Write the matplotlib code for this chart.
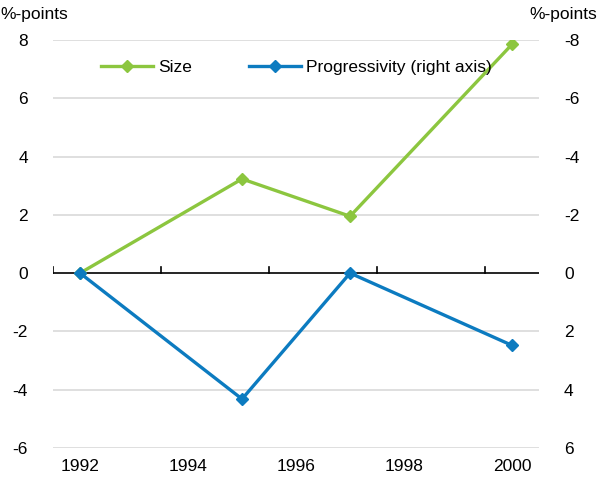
import matplotlib.pyplot as plt
import numpy as np

plt.rcParams['font.family'] = ['Liberation Sans', 'DejaVu Sans']
plt.rcParams['axes.unicode_minus'] = False

years = [1992, 1995, 1997, 2000]
size = [0.0, 3.23, 1.95, 7.85]
progressivity = [0.0, 4.32, 0.0, 2.48]
year_labels = [1992, 1994, 1996, 1998, 2000]

green = '#8CC63F'
blue = '#0C7BC0'

fig = plt.figure(figsize=(5.97, 4.79), dpi=100)
ax = fig.add_axes([0.0888, 0.0647, 0.8142, 0.852])
ax2 = ax.twinx()

ax.set_xlim(1991.5, 2000.5)
ax.set_ylim(-6, 8)
ax2.set_ylim(6, -8)

# gridlines
for y in range(-6, 9, 2):
    if y == 0:
        continue
    ax.axhline(y, color='#D9D9D9', lw=1.2, zorder=0)
ax.axhline(0, color='black', lw=1.2, zorder=1)
for x in np.arange(1991.5, 2000, 2):
    ax.plot([x, x], [0, 0.22], color='black', lw=1.2, zorder=1)

l1, = ax.plot(years, size, color=green, lw=2.4, marker='D', ms=6, zorder=3, label='Size')
l2, = ax2.plot(years, progressivity, color=blue, lw=2.4, marker='D', ms=6, zorder=3,
               label='Progressivity (right axis)')

for a in (ax, ax2):
    for s in a.spines.values():
        s.set_visible(False)
    a.tick_params(length=0, labelsize=12.5)

ax.set_yticks(range(-6, 9, 2))
ax2.set_yticks(range(-8, 7, 2))
ax.tick_params(axis='y', pad=18)
ax2.tick_params(axis='y', pad=18)
ax.set_xticks(year_labels)
ax.set_xticklabels([str(y) for y in year_labels])
ax.tick_params(axis='x', pad=8)

fig.text(0.0, 0.985, '%-points', fontsize=12.5, ha='left', va='top')
fig.text(1.0, 0.985, '%-points', fontsize=12.5, ha='right', va='top')

ax.legend(handles=[l1, l2], loc='upper left', bbox_to_anchor=(0.066, 0.99), ncol=2,
          frameon=False, fontsize=12.5, handlelength=3.0, handletextpad=0.3,
          columnspacing=3.3)

fig.savefig('out.png', dpi=100)
